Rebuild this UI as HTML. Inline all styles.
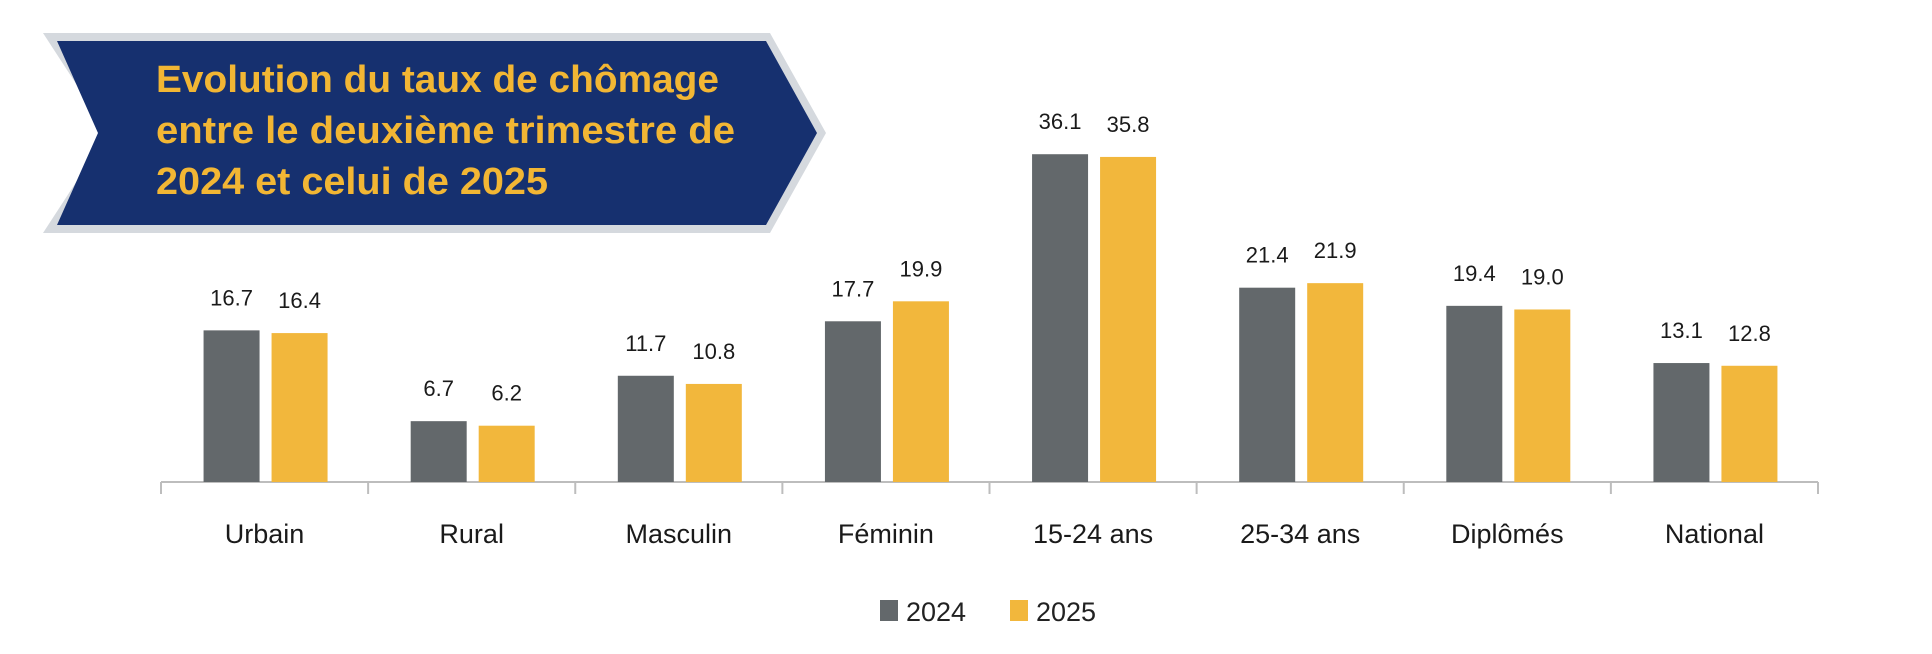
<!DOCTYPE html>
<html><head><meta charset="utf-8"><style>
html,body{margin:0;padding:0;background:#fff;}
svg{display:block;font-family:"Liberation Sans",sans-serif;}
</style></head><body>
<svg id="chart" width="1932" height="654" viewBox="0 0 1932 654">
  <g>
    <polygon points="43,33 770,33 826,133 770,233 43,233 108,133" fill="#d5d9de"/>
    <polygon points="57,41 766,41 817,133 766,225 57,225 98,133" fill="#16306f"/>
    <g font-weight="bold" fill="#f2b634" font-size="38">
      <text x="156" y="92" textLength="563" lengthAdjust="spacingAndGlyphs">Evolution du taux de chômage</text>
      <text x="156" y="143" textLength="579" lengthAdjust="spacingAndGlyphs">entre le deuxième trimestre de</text>
      <text x="156" y="194" textLength="392" lengthAdjust="spacingAndGlyphs">2024 et celui de 2025</text>
    </g>
  </g>
  <g id="plot"></g>
  <g>
    <g>
      <rect x="880" y="600" width="18" height="21" fill="#63686b"/>
      <text x="906" y="621" font-size="27" fill="#222">2024</text>
    </g>
    <g>
      <rect x="1010" y="600" width="18" height="21" fill="#f2b73c"/>
      <text x="1036" y="621" font-size="27" fill="#222">2025</text>
    </g>
  </g>
</svg>
<script>
const categories = ["Urbain","Rural","Masculin","Féminin","15-24 ans","25-34 ans","Diplômés","National"];
const values2024 = [16.7,6.7,11.7,17.7,36.1,21.4,19.4,13.1];
const values2025 = [16.4,6.2,10.8,19.9,35.8,21.9,19.0,12.8];
const labels2024 = ["16.7","6.7","11.7","17.7","36.1","21.4","19.4","13.1"];
const labels2025 = ["16.4","6.2","10.8","19.9","35.8","21.9","19.0","12.8"];

const NS = "http://www.w3.org/2000/svg";
const plot = document.getElementById("plot");
const x0 = 161, x1 = 1818, baseY = 482, pxPerUnit = 9.08;
const band = (x1 - x0) / categories.length;
function xCenter(i){ return x0 + band * (i + 0.5); }
function yScale(v){ return baseY - v * pxPerUnit; }
function mk(tag, attrs){ const e = document.createElementNS(NS, tag); for (const k in attrs) e.setAttribute(k, attrs[k]); plot.appendChild(e); return e; }

const axis = mk("line", {x1:x0, y1:baseY, x2:x1, y2:baseY, stroke:"#bdbdbd", "stroke-width":2});


for (let i = 0; i <= categories.length; i++) {
  const tx = x0 + band * i;
  const t = mk("line", {x1:tx, y1:baseY, x2:tx, y2:baseY+12, stroke:"#bdbdbd", "stroke-width":2});
  
  
}
const bw = 56;
categories.forEach((c, i) => {
  const cx = xCenter(i);
  const gx = cx - 61, yx = cx + 7;
  const b1 = mk("rect", {x:gx, y:yScale(values2024[i]), width:bw, height:values2024[i]*pxPerUnit, fill:"#63686b"});
  
  
  const b2 = mk("rect", {x:yx, y:yScale(values2025[i]), width:bw, height:values2025[i]*pxPerUnit, fill:"#f2b73c"});
  
  
  const l1 = mk("text", {x:gx + bw/2, y:yScale(values2024[i]) - 25, "text-anchor":"middle", "font-size":22, fill:"#1a1a1a"});
  l1.textContent = labels2024[i];
  
  
  const l2 = mk("text", {x:yx + bw/2, y:yScale(values2025[i]) - 25, "text-anchor":"middle", "font-size":22, fill:"#1a1a1a"});
  l2.textContent = labels2025[i];
  
  
  const cl = mk("text", {x:cx, y:543, "text-anchor":"middle", "font-size":27, fill:"#1a1a1a"});
  cl.textContent = c;
  
  
});
</script>
</body></html>
